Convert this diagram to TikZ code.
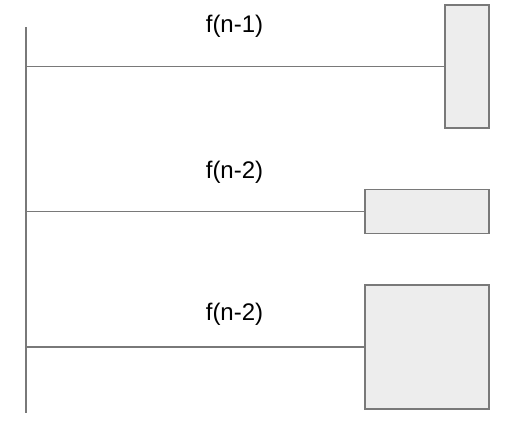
\documentclass[tikz,border=0pt]{standalone}
\usepackage{fontspec}
\setmainfont{Liberation Sans}
\begin{document}
\begin{tikzpicture}[x=1pt,y=-1pt,
  box/.style={draw=gray!95!black,line width=1.8pt,fill=black!7,inner sep=0pt},
  wire/.style={draw=gray!95!black,line width=1.8pt},
  lbl/.style={font=\fontsize{24}{28}\selectfont,inner sep=0pt}]
\useasboundingbox (0,0) rectangle (517,432);
\coordinate (top) at (26,27);
\coordinate (bot) at (26,413);
\draw[wire] (top) -- (bot);
\node[box,minimum width=44pt,minimum height=123pt] (r1) at (467,66.5) {};
\node[box,minimum width=124pt,minimum height=44pt] (r2) at (427,211.5) {};
\node[box,minimum width=124pt,minimum height=124pt] (r3) at (427,347) {};
\coordinate (s1) at (26,66.5);
\coordinate (s2) at (26,211.5);
\coordinate (s3) at (26,347);
\draw[wire] (s1) -- (r1.west);
\draw[wire] (s2) -- (r2.west);
\draw[wire] (s3) -- (r3.west);
\node[lbl] (l1) at (234.5,26.5) {f(n-1)};
\node[lbl] (l2) at (234.5,172.5) {f(n-2)};
\node[lbl] (l3) at (234.5,314.5) {f(n-2)};
\end{tikzpicture}
\end{document}
